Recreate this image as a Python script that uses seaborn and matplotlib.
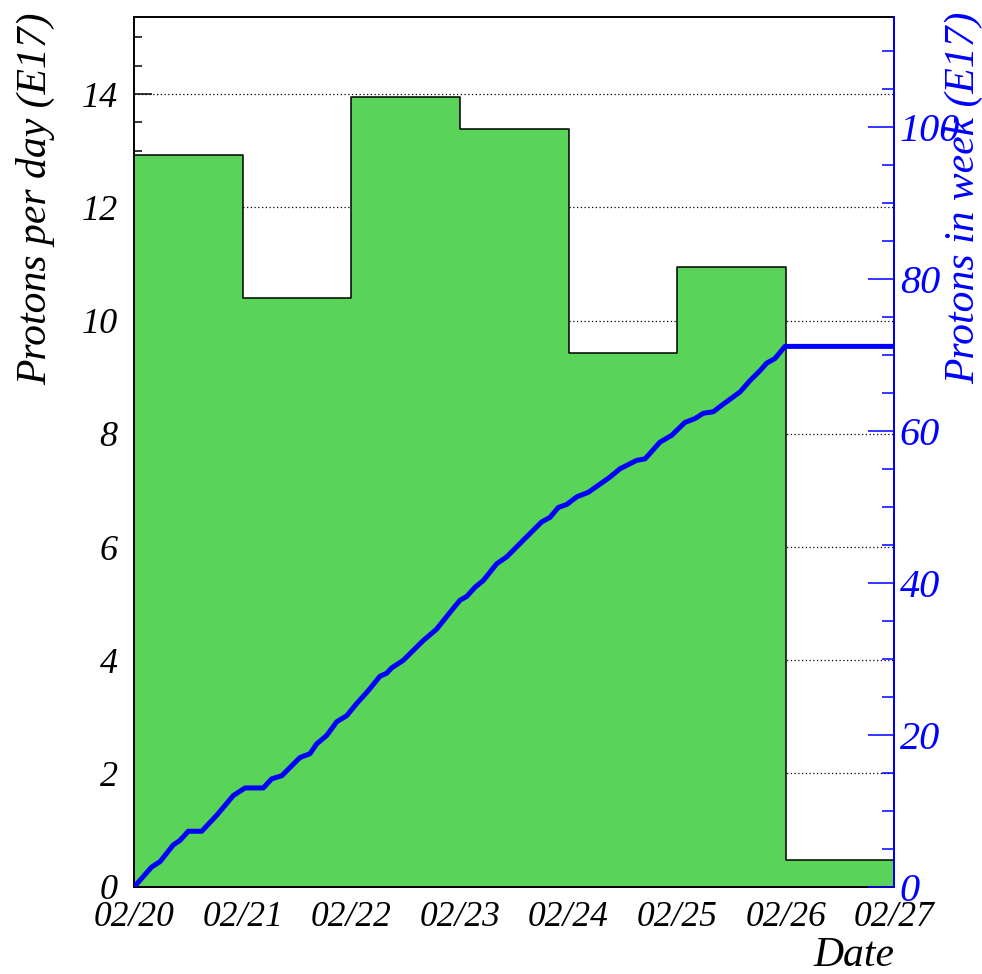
import numpy as np
import pandas as pd
import matplotlib
matplotlib.use("Agg")
import matplotlib.pyplot as plt
from matplotlib.ticker import MultipleLocator
import seaborn as sns

# ---------------- data ----------------
date_labels = ["02/20", "02/21", "02/22", "02/23", "02/24", "02/25", "02/26", "02/27"]
day_edges = [0, 1, 2, 3, 4, 5, 6, 7]
daily_protons = [12.93, 10.40, 13.95, 13.38, 9.43, 10.95, 0.47]   # E17 per day

cum_days = [0.0, 0.160, 0.237, 0.359, 0.421, 0.497, 0.621, 0.759, 0.912, 1.020,
            1.188, 1.266, 1.358, 1.526, 1.618, 1.680, 1.772, 1.864, 1.956, 2.048,
            2.155, 2.263, 2.325, 2.371, 2.478, 2.662, 2.785, 2.908, 3.000, 3.062,
            3.138, 3.215, 3.338, 3.430, 3.583, 3.752, 3.829, 3.905, 3.983, 4.075,
            4.182, 4.381, 4.474, 4.627, 4.704, 4.842, 4.950, 5.072, 5.164, 5.241,
            5.333, 5.425, 5.579, 5.671, 5.763, 5.825, 5.901, 5.993, 7.0]
cum_protons = [0.0, 2.6, 3.3, 5.5, 6.1, 7.3, 7.3, 9.4, 12.0, 13.0,
               13.0, 14.2, 14.6, 17.0, 17.5, 18.8, 19.9, 21.7, 22.5, 24.1,
               25.8, 27.7, 28.1, 28.8, 29.8, 32.4, 33.9, 36.1, 37.7, 38.2,
               39.4, 40.3, 42.5, 43.4, 45.6, 48.0, 48.6, 49.9, 50.3, 51.3,
               51.9, 53.9, 55.0, 56.1, 56.3, 58.5, 59.4, 61.1, 61.6, 62.3,
               62.5, 63.5, 65.1, 66.6, 67.9, 68.9, 69.5, 71.1, 71.1]

left_max = 15.355
right_max = 114.4

green = "#59D458"
blue = "#0000FF"

# ---------------- style ----------------
sns.set_style("ticks")
plt.rcParams["font.family"] = ["Liberation Serif", "DejaVu Serif"]
plt.rcParams["font.style"] = "italic"
for key in ["text.color", "axes.labelcolor", "xtick.color", "ytick.color",
            "axes.edgecolor"]:
    plt.rcParams[key] = "black"

fig = plt.figure(figsize=(9.82, 9.74), dpi=100)
ax1 = fig.add_axes([0.13676, 0.0896, 0.7739, 0.8926])

centers = [(a + b) / 2 for a, b in zip(day_edges[:-1], day_edges[1:])]
hist_df = pd.DataFrame({"day": centers, "protons": daily_protons})
sns.histplot(data=hist_df, x="day", weights="protons", bins=day_edges,
             element="step", fill=True, color=green, alpha=1,
             edgecolor="black", linewidth=1.1, ax=ax1)

ax1.set_xlim(day_edges[0], day_edges[-1])
ax1.set_ylim(0, left_max)
ax1.set_xticks(day_edges)
ax1.set_xticklabels(date_labels)
ax1.yaxis.set_major_locator(MultipleLocator(2))
ax1.yaxis.set_minor_locator(MultipleLocator(0.5))

# dotted horizontal grid behind the histogram
for yv in ax1.get_yticks():
    if 0 < yv < left_max:
        ax1.axhline(yv, color="black", lw=0.9, ls=(0, (1, 2)), zorder=0.5)

ax1.tick_params(axis="y", which="major", direction="in", length=13, width=1.1,
                labelsize=26, pad=12, left=True, right=False, colors="black")
ax1.tick_params(axis="y", which="minor", direction="in", length=6, width=1.1,
                left=True, right=False, colors="black")
ax1.tick_params(axis="x", which="major", direction="in", length=11.5, width=1.1,
                labelsize=25.5, pad=10, bottom=True, top=False, colors="black")
ax1.tick_params(axis="x", which="minor", bottom=False, top=False)
for s in ax1.spines.values():
    s.set_linewidth(1.4)
    s.set_color("black")

ax1.set_ylabel("Protons per day (E17)", fontsize=30, loc="top", color="black")
ax1.yaxis.set_label_coords(-0.104, 1.006)
ax1.set_xlabel("Date", fontsize=30, loc="right", color="black")
ax1.xaxis.set_label_coords(1.0, -0.057)

# ---------------- right axis ----------------
ax2 = ax1.twinx()
line_df = pd.DataFrame({"day": cum_days, "cum": cum_protons})
sns.lineplot(data=line_df, x="day", y="cum", color=blue, lw=3.6,
             sort=False, estimator=None, ax=ax2)
ax2.set_ylim(0, right_max)
ax2.set_xlim(day_edges[0], day_edges[-1])
ax2.yaxis.set_major_locator(MultipleLocator(20))
ax2.yaxis.set_minor_locator(MultipleLocator(5))
ax2.tick_params(axis="y", which="major", direction="in", length=19, width=1.1,
                labelsize=29, pad=4, colors=blue, right=True, left=False)
ax2.tick_params(axis="y", which="minor", direction="in", length=8.6, width=1.1,
                colors=blue, right=True, left=False)
ax2.spines["right"].set_color(blue)
ax2.spines["right"].set_linewidth(1.4)
for k in ["left", "top", "bottom"]:
    ax2.spines[k].set_visible(False)
ax2.set_xlabel("")
ax2.set_ylabel("Protons in week (E17)", fontsize=30, color=blue, loc="top")
ax2.yaxis.set_label_coords(1.0667, 1.006)

fig.savefig("out.png", dpi=100)
